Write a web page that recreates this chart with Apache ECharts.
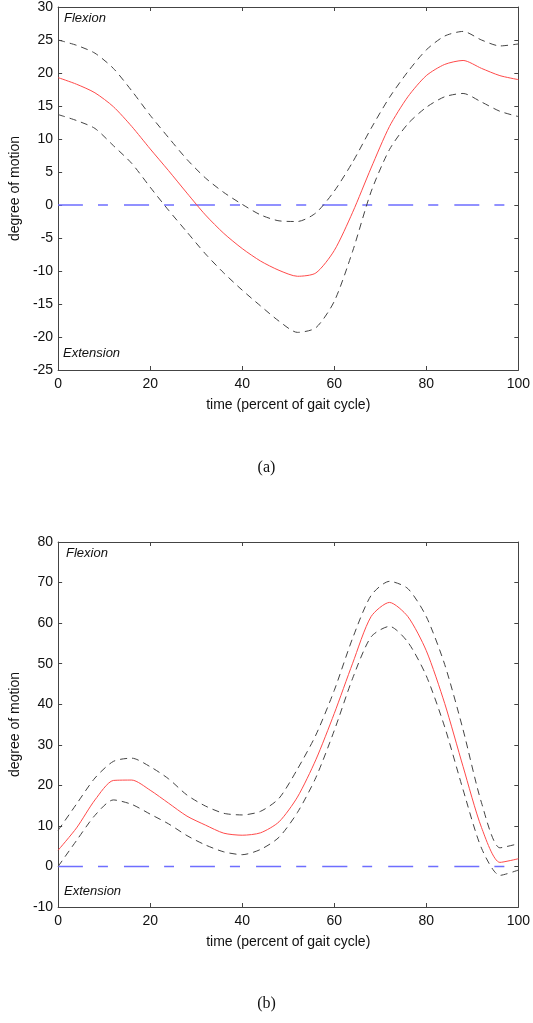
<!DOCTYPE html>
<html>
<head>
<meta charset="utf-8">
<title>gait cycle</title>
<script src="https://cdn.jsdelivr.net/npm/echarts@6/dist/echarts.min.js"></script>
<style>
  html, body { margin: 0; padding: 0; background: #fff; }
  #myChart { width: 533px; height: 1023px; }
</style>
</head>
<body>
<div id="myChart"></div>
<script>
/////////////////////////
// data (percent of gait cycle -> degree)

var gaitX = [0, 4, 8, 12, 16, 20, 24, 28, 32, 36, 40, 44, 48, 52, 56, 60, 64, 68, 72, 76, 80, 84, 88, 92, 96, 100];

// (a)
var meanA  = [19.3, 18.3, 17.0, 14.9, 11.9, 8.5, 5.2, 1.8, -1.5, -4.3, -6.6, -8.5, -9.9, -10.8, -10.3, -6.9, -1.1, 5.6, 11.9, 16.4, 19.6, 21.3, 21.9, 20.7, 19.6, 19.0];
var upperA = [25.0, 24.2, 23.0, 20.7, 17.3, 13.6, 10.2, 6.9, 4.1, 1.9, 0.1, -1.5, -2.4, -2.5, -1.2, 2.1, 6.5, 11.6, 16.3, 20.2, 23.5, 25.6, 26.3, 25.0, 24.1, 24.4];
var lowerA = [13.7, 12.8, 11.6, 9.0, 6.3, 2.7, -0.8, -4.1, -7.4, -10.3, -12.9, -15.3, -17.6, -19.3, -18.6, -14.6, -7.0, 2.0, 8.4, 12.3, 14.8, 16.4, 16.9, 15.6, 14.2, 13.4];

// (b)
var meanB  = [4.0, 9.5, 16.4, 21.2, 21.3, 18.8, 15.6, 12.4, 10.2, 8.2, 7.7, 8.3, 11.0, 17.1, 26.3, 37.7, 50.1, 61.6, 65.1, 61.6, 53.2, 40.2, 24.6, 9.6, 1.0, 1.9];
var upperB = [8.9, 15.4, 21.8, 25.9, 26.7, 24.6, 21.6, 17.6, 14.9, 13.1, 12.7, 13.6, 16.8, 24.0, 32.4, 43.4, 56.3, 66.8, 70.3, 68.5, 61.6, 49.8, 33.7, 15.7, 4.6, 5.6];
var lowerB = [0.0, 6.4, 12.6, 16.4, 15.3, 12.9, 10.5, 7.6, 5.3, 3.6, 2.9, 4.2, 7.2, 13.3, 21.9, 33.5, 46.4, 56.6, 59.2, 55.3, 47.0, 34.4, 18.9, 4.5, -2.2, -0.9];

// zero reference line
var zeroX = [0, 100];
var zeroY = [0, 0];

// axis ranges / ticks
var xTicks = { min: 0, max: 100, interval: 20 };
var yTicksA = { min: -25, max: 30, interval: 5 };
var yTicksB = { min: -10, max: 80, interval: 10 };

/////////////////////////

var myChart;
var AXIS_COLOR = '#444';
var LABEL_FONT = '"Liberation Sans", Arial, sans-serif';

function zip(xs, ys) {
    var d = [];
    for (var i = 0; i < xs.length; i++) {
        d.push([xs[i], ys[i]]);
    }
    return d;
}

function makeXAxes(gridIndex) {
    var base = {
        type: 'value', gridIndex: gridIndex,
        min: xTicks.min, max: xTicks.max, interval: xTicks.interval,
        axisLine: { show: true, onZero: false, lineStyle: { color: AXIS_COLOR, width: 1 } },
        axisTick: { show: true, inside: true, length: 4, lineStyle: { color: AXIS_COLOR } },
        splitLine: { show: false }
    };
    var bottom = echarts.util.merge({
        position: 'bottom',
        name: 'time (percent of gait cycle)',
        nameLocation: 'middle',
        nameGap: 28,
        nameTextStyle: { color: '#111', fontSize: 14, fontFamily: LABEL_FONT },
        axisLabel: { color: '#111', fontSize: 14, fontFamily: LABEL_FONT, margin: 7 }
    }, base, true);
    var top = echarts.util.merge({
        position: 'top',
        axisLabel: { show: false }
    }, base, true);
    return [bottom, top];
}

function makeYAxes(gridIndex, ticks) {
    var base = {
        type: 'value', gridIndex: gridIndex,
        min: ticks.min, max: ticks.max, interval: ticks.interval,
        axisLine: { show: true, onZero: false, lineStyle: { color: AXIS_COLOR, width: 1 } },
        axisTick: { show: true, inside: true, length: 4, lineStyle: { color: AXIS_COLOR } },
        splitLine: { show: false }
    };
    var left = echarts.util.merge({
        position: 'left',
        name: 'degree of motion',
        nameLocation: 'middle',
        nameGap: 31,
        nameTextStyle: { color: '#111', fontSize: 14, fontFamily: LABEL_FONT },
        axisLabel: { color: '#111', fontSize: 14, fontFamily: LABEL_FONT, margin: 5 }
    }, base, true);
    var right = echarts.util.merge({
        position: 'right',
        axisLabel: { show: false }
    }, base, true);
    return [left, right];
}

function lineSeries(name, xAxisIndex, yAxisIndex, data, style) {
    return {
        name: name,
        type: 'line',
        xAxisIndex: xAxisIndex,
        yAxisIndex: yAxisIndex,
        data: data,
        showSymbol: false,
        smooth: 0.25,
        silent: true,
        lineStyle: style
    };
}

function makePanelSeries(xi, yi, mean, upper, lower) {
    var dashed = { color: '#444', width: 1, type: [7, 5] };
    return [
        lineSeries('zero', xi, yi, zip(zeroX, zeroY), { color: '#6e6eff', width: 1.5, type: [25, 15, 10, 16] }),
        lineSeries('upper', xi, yi, zip(gaitX, upper), dashed),
        lineSeries('lower', xi, yi, zip(gaitX, lower), dashed),
        lineSeries('mean', xi, yi, zip(gaitX, mean), { color: '#ff4a4a', width: 1 })
    ];
}

function italicText(x, y, text) {
    return {
        type: 'text', left: x, top: y,
        style: { text: text, fill: '#111', font: 'italic 13px ' + LABEL_FONT }
    };
}

function captionText(y, text) {
    return {
        type: 'text', left: 'center', top: y,
        style: { text: text, fill: '#111', font: '16px "Liberation Serif", "Times New Roman", serif' }
    };
}

function makeStaticOptions() {
    var xA = makeXAxes(0), xB = makeXAxes(1);
    var yA = makeYAxes(0, yTicksA), yB = makeYAxes(1, yTicksB);

    var series = []
        .concat(makePanelSeries(0, 0, meanA, upperA, lowerA))
        .concat(makePanelSeries(2, 2, meanB, upperB, lowerB));

    return {
        animation: false,
        backgroundColor: '#fff',
        grid: [
            { left: 55, top: 5, width: 464, height: 365 },
            { left: 57, top: 542, width: 462, height: 365 }
        ],
        xAxis: [xA[0], xA[1], xB[0], xB[1]],
        yAxis: [yA[0], yA[1], yB[0], yB[1]],
        series: series,
        graphic: [
            italicText(64, 12, 'Flexion'),
            italicText(63, 347, 'Extension'),
            italicText(66, 547, 'Flexion'),
            italicText(64, 885, 'Extension'),
            captionText(460, '(a)'),
            captionText(996, '(b)')
        ]
    };
}

function init() {
    myChart = echarts.init(document.getElementById('myChart'));
    myChart.setOption(makeStaticOptions());
}

init();
</script>
</body>
</html>
